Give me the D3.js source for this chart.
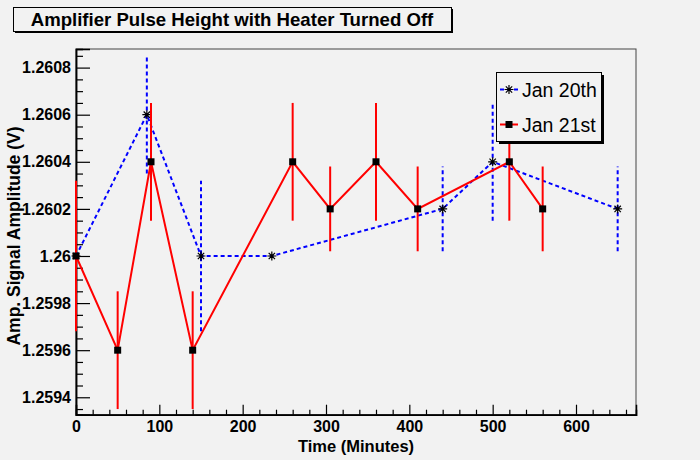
<!DOCTYPE html>
<html><head><meta charset="utf-8">
<script src="https://cdn.jsdelivr.net/npm/d3@7"></script>
<style>body{margin:0;background:#f2f2f2;} svg{display:block;font-family:"Liberation Sans",Arial,Helvetica,sans-serif;}</style>
</head><body><svg id="c" width="700" height="460"></svg>
<script>
// ---- data ----
const title = "Amplifier Pulse Height with Heater Turned Off";
const xTitle = "Time (Minutes)";
const yTitle = "Amp. Signal Amplitude (V)";
const seriesNames = ["Jan 20th", "Jan 21st"];
const jan20Time = [0, 85, 150, 235, 440, 500, 650];
const jan20Amp  = [1.2600, 1.2606, 1.2600, 1.2600, 1.2602, 1.2604, 1.2602];
const jan20Err  = [0, 0.00025, 0.00032, 0, 0.00018, 0.00025, 0.00018];
const jan21Time = [0, 50, 90, 140, 260, 305, 360, 410, 520, 560];
const jan21Amp  = [1.2600, 1.2596, 1.2604, 1.2596, 1.2604, 1.2602, 1.2604, 1.2602, 1.2604, 1.2602];
const jan21Err  = [0.00032, 0.00025, 0.00025, 0.00025, 0.00025, 0.00018, 0.00025, 0.00018, 0.00025, 0.00018];
const xTickValues = [0, 100, 200, 300, 400, 500, 600];
const xTickLabels = ["0", "100", "200", "300", "400", "500", "600"];
const yTickValues = [1.2594, 1.2596, 1.2598, 1.2600, 1.2602, 1.2604, 1.2606, 1.2608];
const yTickLabels = ["1.2594", "1.2596", "1.2598", "1.26", "1.2602", "1.2604", "1.2606", "1.2608"];

// ---- layout ----
const bg = "#f2f2f2";
const L = 76, R = 636, T = 49, B = 414.7;
const svg = d3.select("#c");
svg.append("rect").attr("width", 700).attr("height", 460).attr("fill", bg);

const x = d3.scaleLinear().domain([0, 672]).range([L, R]);
const y = d3.scaleLinear().domain([1.259326, 1.260879]).range([B, T]);

// frame
svg.append("rect").attr("x", L).attr("y", T).attr("width", R - L).attr("height", B - T)
  .attr("fill", bg).attr("stroke", "#444").attr("stroke-width", 1);

// x axis
const xMinor = d3.range(0, 672, 20).filter(v => v % 100 !== 0);
const gx = svg.append("g").attr("transform", `translate(0,${B})`);
gx.call(d3.axisBottom(x).tickValues(xMinor).tickSize(-5).tickFormat(""));
gx.call(g => g.append("g").call(d3.axisBottom(x).tickValues(xTickValues).tickSize(-10).tickPadding(6)
  .tickFormat((d, i) => xTickLabels[i])));
gx.selectAll("path.domain").attr("stroke", "#000").attr("stroke-width", 1.5);
gx.selectAll("line").attr("stroke", "#000").attr("stroke-width", 1.2);
gx.selectAll("text").attr("font-size", 16).attr("font-weight", "bold").attr("fill", "#000")
  .attr("font-family", "Liberation Sans, Arial, sans-serif");

// y axis
const yMinor = d3.range(125935, 126090, 5).map(v => v / 100000)
  .filter(v => !yTickValues.some(t => Math.abs(t - v) < 1e-9));
const gy = svg.append("g").attr("transform", `translate(${L},0)`);
gy.call(d3.axisLeft(y).tickValues(yMinor).tickSize(-7).tickFormat(""));
gy.call(g => g.append("g").call(d3.axisLeft(y).tickValues(yTickValues).tickSize(-14).tickPadding(5)
  .tickFormat((d, i) => yTickLabels[i])));
gy.selectAll("path.domain").attr("stroke", "#000").attr("stroke-width", 1.5);
gy.selectAll("line").attr("stroke", "#000").attr("stroke-width", 1.2);
gy.selectAll("text").attr("font-size", 16).attr("font-weight", "bold").attr("fill", "#000")
  .attr("font-family", "Liberation Sans, Arial, sans-serif");

// axis titles
svg.append("text").attr("x", 356).attr("y", 452).attr("text-anchor", "middle")
  .attr("font-size", 16.5).attr("font-weight", "bold").text(xTitle);
svg.append("text").attr("transform", "translate(20,236) rotate(-90)").attr("text-anchor", "middle")
  .attr("font-size", 17.5).attr("font-weight", "bold").text(yTitle);

// series drawing
function starPath(cx, cy, r) {
  const d = r * 0.707;
  return `M${cx - r},${cy}L${cx + r},${cy}M${cx},${cy - r}L${cx},${cy + r}` +
    `M${cx - d},${cy - d}L${cx + d},${cy + d}M${cx - d},${cy + d}L${cx + d},${cy - d}`;
}
const line = d3.line().x(d => x(d[0])).y(d => y(d[1]));

// Jan 20th (blue dashed, star)
const d20 = jan20Time.map((t, i) => [t, jan20Amp[i], jan20Err[i]]);
const g20 = svg.append("g");
g20.selectAll("line.err").data(d20.filter(d => d[2] > 0)).join("line")
  .attr("x1", d => x(d[0])).attr("x2", d => x(d[0]))
  .attr("y1", d => y(d[1] - d[2])).attr("y2", d => y(d[1] + d[2]))
  .attr("stroke", "#0000ff").attr("stroke-width", 2).attr("stroke-dasharray", "4,3");
g20.append("path").attr("d", line(d20)).attr("fill", "none")
  .attr("stroke", "#0000ff").attr("stroke-width", 2).attr("stroke-dasharray", "4,3");
g20.selectAll("path.m").data(d20).join("path").attr("class", "m")
  .attr("d", d => starPath(x(d[0]), y(d[1]), 4.5)).attr("stroke", "#000").attr("stroke-width", 1.2);

// Jan 21st (red solid, square)
const d21 = jan21Time.map((t, i) => [t, jan21Amp[i], jan21Err[i]]);
const g21 = svg.append("g");
g21.selectAll("line.err").data(d21).join("line")
  .attr("x1", d => x(d[0])).attr("x2", d => x(d[0]))
  .attr("y1", d => y(d[1] - d[2])).attr("y2", d => y(d[1] + d[2]))
  .attr("stroke", "#ff0000").attr("stroke-width", 2);
g21.append("path").attr("d", line(d21)).attr("fill", "none")
  .attr("stroke", "#ff0000").attr("stroke-width", 2);
g21.selectAll("rect.m").data(d21).join("rect").attr("class", "m")
  .attr("x", d => x(d[0]) - 3.5).attr("y", d => y(d[1]) - 3.5)
  .attr("width", 7).attr("height", 7).attr("fill", "#000");

// title box
svg.append("rect").attr("x", 15).attr("y", 9).attr("width", 438).attr("height", 24).attr("fill", "#000");
svg.append("rect").attr("x", 13.5).attr("y", 7.5).attr("width", 438).attr("height", 24)
  .attr("fill", bg).attr("stroke", "#000").attr("stroke-width", 1);
svg.append("text").attr("x", 232).attr("y", 26).attr("text-anchor", "middle")
  .attr("font-size", 18.6).attr("font-weight", "bold").text(title);

// legend
const lg = svg.append("g");
lg.append("rect").attr("x", 499).attr("y", 75).attr("width", 105).attr("height", 69).attr("fill", "#000");
lg.append("rect").attr("x", 496.5).attr("y", 72.5).attr("width", 105).attr("height", 69)
  .attr("fill", bg).attr("stroke", "#000").attr("stroke-width", 1);
const legY = [89.5, 124.5];
lg.append("line").attr("x1", 500).attr("x2", 518).attr("y1", legY[0]).attr("y2", legY[0])
  .attr("stroke", "#0000ff").attr("stroke-width", 2).attr("stroke-dasharray", "4,3");
lg.append("path").attr("d", starPath(509, legY[0], 4.5)).attr("stroke", "#000").attr("stroke-width", 1.2);
lg.append("line").attr("x1", 500).attr("x2", 518).attr("y1", legY[1]).attr("y2", legY[1])
  .attr("stroke", "#ff0000").attr("stroke-width", 2);
lg.append("rect").attr("x", 505.5).attr("y", legY[1] - 3.5).attr("width", 7).attr("height", 7).attr("fill", "#000");
seriesNames.forEach((n, i) => {
  lg.append("text").attr("x", 522).attr("y", legY[i] + 7).attr("font-size", 19.5).text(n);
});
</script></body></html>
